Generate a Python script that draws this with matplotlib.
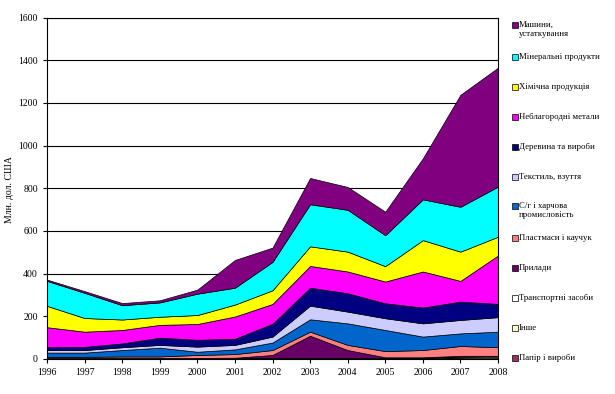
import matplotlib
matplotlib.use("Agg")
import matplotlib.pyplot as plt
from matplotlib.patches import Rectangle

plt.rcParams['font.family'] = ['Liberation Serif', 'DejaVu Serif']

years = list(range(1996, 2009))

# series from bottom of the stack to the top (values in mln USD)
paper = [2, 2, 2, 2, 2, 2, 2, 2, 2, 2, 2, 4, 4]
other = [1, 1, 1, 1, 1, 1, 1, 1, 1, 1, 2, 4, 6]
transport = [1, 1, 1, 1, 1, 1, 2, 2, 2, 2, 2, 4, 4]
devices = [1, 1, 1, 1, 1, 2, 14, 104, 37, 3, 2, 3, 1]
plastics = [5, 5, 7, 7, 14, 17, 23, 19, 24, 29, 34, 46, 40]
agri_food = [20, 20, 30, 41, 15, 22, 35, 58, 101, 99, 63, 59, 73]
textile = [12, 12, 13, 13, 24, 21, 28, 64, 55, 55, 62, 63, 68]
wood = [13, 15, 18, 34, 32, 29, 60, 84, 86, 70, 74, 86, 62]
base_metals = [94, 71, 63, 60, 74, 104, 93, 102, 102, 102, 169, 97, 227]
chemicals = [100, 64, 49, 38, 42, 56, 64, 92, 93, 72, 147, 137, 88]
minerals = [117, 118, 67, 67, 100, 79, 133, 197, 196, 145, 191, 210, 235]
machinery = [6, 8, 10, 10, 19, 130, 67, 123, 107, 110, 192, 525, 557]

series = [paper, other, transport, devices, plastics, agri_food,
          textile, wood, base_metals, chemicals, minerals, machinery]
labels = ['Папір і вироби', 'Інше', 'Транспортні засоби', 'Прилади',
          'Пластмаси і каучук', 'С/г і харчова\nпромисловість',
          'Текстиль, взуття', 'Деревина та вироби', 'Неблагородні метали',
          'Хімічна продукція', 'Мінеральні продукти', 'Машини,\nустаткування']
colors = ['#993366', '#ffffcc', '#ffffff', '#660066', '#ff8080', '#0066cc',
          '#ccccff', '#000080', '#ff00ff', '#ffff00', '#00ffff', '#800080']

fig = plt.figure(figsize=(6.15, 3.94), dpi=100)
ax = fig.add_axes([47 / 615, 1 - 359 / 394, (498 - 47) / 615, (359 - 17.5) / 394])

ax.stackplot(years, *series, colors=colors, edgecolor='black', linewidth=0.5)

ax.set_xlim(1996, 2008)
ax.set_ylim(0, 1600)
ax.set_yticks(range(0, 1601, 200))
ax.set_xticks(years)
ax.yaxis.grid(True, color='black', linewidth=0.8)
ax.set_axisbelow(True)
ax.tick_params(labelsize=7, length=3, width=0.8, direction='out')
for sp in ax.spines.values():
    sp.set_linewidth(0.8)
fig.text(10 / 615, 1 - 190 / 394, 'Млн. дол. США', fontsize=7,
         rotation=90, ha='center', va='center')

# legend drawn by hand on the right, top entry = top of the stack
legend_y = [25, 57, 87, 117, 147, 177, 206, 238, 268, 298, 328, 358]
for lab, col, ypx in zip(labels[::-1], colors[::-1], legend_y):
    fig.patches.append(Rectangle((512 / 615, 1 - (ypx + 3) / 394), 6 / 615, 6 / 394,
                                 transform=fig.transFigure, facecolor=col,
                                 edgecolor='black', linewidth=0.5))
    fig.text(519 / 615, 1 - (ypx - 4) / 394 if '\n' in lab else 1 - ypx / 394, lab,
             fontsize=6.3, va='top' if '\n' in lab else 'center',
             ha='left', linespacing=1.1)

fig.savefig('out.png', dpi=100)
